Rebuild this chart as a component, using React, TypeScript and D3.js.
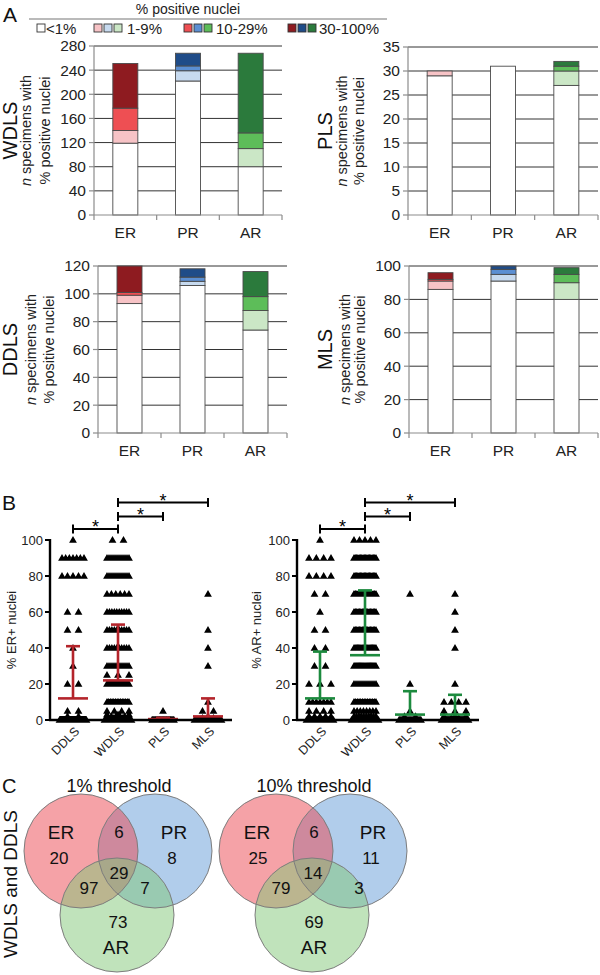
import React from 'react';
import * as d3 from 'd3';

const FONT = '"Liberation Sans", Arial, Helvetica, sans-serif';

// ---------- Panel A data ----------
const receptors = ['ER', 'PR', 'AR'];
const binLabels = ['<1%', '1-9%', '10-29%', '30-100%'];
const binKeys = ['b0', 'b1', 'b2', 'b3'];
const wdlsCounts = [[119, 21, 37, 74], [222, 17, 8, 21], [80, 30, 26, 132]];
const plsCounts = [[29, 1, 0, 0], [31, 0, 0, 0], [27, 3, 1, 1]];
const ddlsCounts = [[93, 6, 2, 19], [106, 3, 3, 6], [74, 14, 10, 18]];
const mlsCounts = [[86, 5, 1, 4], [91, 4, 3, 2], [80, 10, 5, 4]];
const erPalette = ['#ffffff', '#f7c3c6', '#ee4f53', '#8e1b20'];
const prPalette = ['#ffffff', '#c7daef', '#5b8fd3', '#1f4c88'];
const arPalette = ['#ffffff', '#cbe7c6', '#5dbd59', '#2b7a3c'];
const palettes = [erPalette, prPalette, arPalette];

// ---------- Panel B data ----------
const groupsB = ['DDLS', 'WDLS', 'PLS', 'MLS'];
const levelsB = [0, 1, 2, 3, 5, 10, 20, 25, 30, 40, 50, 60, 70, 80, 90, 100];
const erDDLS = [93, 2, 2, 0, 2, 0, 2, 0, 1, 1, 2, 2, 0, 5, 7, 1];
const erWDLS = [119, 8, 6, 3, 4, 14, 20, 3, 12, 10, 10, 10, 6, 12, 12, 2];
const erPLS = [29, 0, 0, 0, 1, 0, 0, 0, 0, 0, 0, 0, 0, 0, 0, 0];
const erMLS = [86, 2, 1, 0, 2, 1, 0, 0, 1, 1, 1, 0, 1, 0, 0, 0];
const arDDLS = [74, 5, 5, 0, 4, 7, 3, 0, 2, 2, 2, 1, 2, 4, 4, 1];
const arWDLS = [80, 12, 10, 0, 8, 14, 12, 0, 21, 20, 17, 17, 16, 18, 18, 5];
const arPLS = [27, 0, 2, 0, 1, 0, 1, 0, 0, 0, 0, 0, 1, 0, 0, 0];
const arMLS = [80, 4, 3, 0, 3, 4, 1, 0, 0, 1, 1, 1, 1, 0, 0, 0];
const erMedian = [12, 22, 0.5, 2];
const erUpper = [41, 53, 1.2, 12];
const arMedian = [12, 36, 3, 3];
const arUpper = [38, 72, 16, 14];
const sigPairs = [['DDLS', 'WDLS'], ['WDLS', 'PLS'], ['WDLS', 'MLS']];

// ---------- Panel C data ----------
const vennSets = ['ER', 'PR', 'AR'];
const vennTitles = ['1% threshold', '10% threshold'];
// regions: ER only, PR only, AR only, ER∩PR, ER∩AR, PR∩AR, ER∩PR∩AR
const venn1pct = [20, 8, 73, 6, 97, 7, 29];
const venn10pct = [25, 11, 69, 6, 79, 3, 14];
const vennSetColors = ['#eb4650', '#649bd7', '#82c878'];
const vennDrawOrder = [1, 0, 2];

// ---------- Panel A chart ----------
function StackChart({ counts, yMax, yStep, left, right, top, bottom, name, labelX }: any) {
  const y = d3.scaleLinear().domain([0, yMax]).range([bottom, top]);
  const x = d3.scaleBand().domain(receptors).range([left, right]);
  const ticks = d3.range(0, yMax + yStep / 2, yStep);
  const rows = receptors.map((r, i) => {
    const o: any = { key: r };
    binKeys.forEach((k, j) => (o[k] = counts[i][j]));
    return o;
  });
  const series = d3.stack().keys(binKeys)(rows);
  const bw = 25;
  const cy = (top + bottom) / 2;
  const axisColor = '#8c8c8c';
  return (
    <g>
      {ticks.filter((t) => t > 0).map((t) => (
        <line key={'g' + t} x1={left} x2={right} y1={y(t)} y2={y(t)} stroke="#333" strokeWidth={1} />
      ))}
      {series.map((s, j) =>
        s.map((d, i) =>
          d[1] - d[0] > 0 ? (
            <rect
              key={`${j}-${i}`}
              x={(x(receptors[i]) as number) + x.bandwidth() / 2 - bw / 2}
              y={y(d[1])}
              width={bw}
              height={y(d[0]) - y(d[1])}
              fill={palettes[i][j]}
              stroke="#4a4a4a"
              strokeWidth={0.9}
            />
          ) : null
        )
      )}
      <line x1={left} x2={left} y1={bottom} y2={top} stroke={axisColor} strokeWidth={1.2} />
      <line x1={left} x2={right} y1={bottom} y2={bottom} stroke={axisColor} strokeWidth={1.2} />
      {ticks.map((t) => (
        <g key={'t' + t}>
          <line x1={left - 5} x2={left} y1={y(t)} y2={y(t)} stroke={axisColor} strokeWidth={1.2} />
          <text x={left - 8} y={y(t)} dy="0.35em" textAnchor="end" fontSize={15.5} fill="#222">{t}</text>
        </g>
      ))}
      {[...receptors.map((r) => x(r) as number), right].map((bx, i) => (
        <line key={'xt' + i} x1={bx} x2={bx} y1={bottom} y2={bottom + 5} stroke={axisColor} strokeWidth={1.2} />
      ))}
      {receptors.map((r) => (
        <text key={'c' + r} x={(x(r) as number) + x.bandwidth() / 2} y={bottom + 23} textAnchor="middle" fontSize={15.5} fill="#222">{r}</text>
      ))}
      <text transform={`translate(${labelX[0]},${cy}) rotate(-90)`} textAnchor="middle" fontSize={20} fill="#111">{name}</text>
      <text transform={`translate(${labelX[1]},${cy}) rotate(-90)`} textAnchor="middle" fontSize={14.5} fill="#222">
        <tspan fontStyle="italic">n</tspan> specimens with
      </text>
      <text transform={`translate(${labelX[2]},${cy}) rotate(-90)`} textAnchor="middle" fontSize={14.5} fill="#222">% positive nuclei</text>
    </g>
  );
}

// ---------- Panel B chart ----------
function triPath(cx: number, cy: number) {
  const w = 7.8, h = 6.8;
  return `M${cx},${cy - h * 0.6}L${cx + w / 2},${cy + h * 0.4}L${cx - w / 2},${cy + h * 0.4}Z`;
}

function ScatterChart({ left, countsByGroup, median, upper, color, ylabel, ylabelX }: any) {
  const y = d3.scaleLinear().domain([0, 100]).range([720, 540]);
  const x = d3.scalePoint().domain(groupsB).range([left + 23, left + 158]);
  const end = left + 182;
  const ticks = d3.range(0, 101, 20);
  const pts: any[] = [];
  groupsB.forEach((g, gi) => {
    levelsB.forEach((v, li) => {
      const n = countsByGroup[gi][li];
      const span = n > 40 ? 27 : 22;
      const step = n > 1 ? Math.min(11, span / (n - 1)) : 0;
      for (let k = 0; k < n; k++) {
        pts.push({ cx: (x(g) as number) + (k - (n - 1) / 2) * step, cy: y(v) });
      }
    });
  });
  const bracketY = [529, 516.5, 502.5];
  return (
    <g>
      <path d={pts.map((p) => triPath(p.cx, p.cy)).join('')} fill="#000" />
      {groupsB.map((g, gi) => {
        const cx = x(g) as number;
        return (
          <g key={'e' + g} stroke={color} strokeWidth={2.6}>
            <line x1={cx} x2={cx} y1={y(median[gi])} y2={y(upper[gi])} />
            <line x1={cx - 15} x2={cx + 15} y1={y(median[gi])} y2={y(median[gi])} />
            <line x1={cx - 7} x2={cx + 7} y1={y(upper[gi])} y2={y(upper[gi])} />
          </g>
        );
      })}
      <line x1={left} x2={left} y1={721} y2={539} stroke="#000" strokeWidth={2.4} />
      <line x1={left - 1} x2={end} y1={720} y2={720} stroke="#000" strokeWidth={2.6} />
      {ticks.map((t) => (
        <g key={'t' + t}>
          <line x1={left - 5} x2={left} y1={y(t)} y2={y(t)} stroke="#000" strokeWidth={2} />
          <text x={left - 7} y={y(t)} dy="0.35em" textAnchor="end" fontSize={13} fill="#222">{t}</text>
        </g>
      ))}
      {groupsB.map((g) => (
        <text key={'l' + g} transform={`translate(${(x(g) as number) + 4},${729}) rotate(-45)`} textAnchor="end" dy="0.35em" fontSize={12.5} fill="#222">{g}</text>
      ))}
      <text transform={`translate(${ylabelX},630) rotate(-90)`} textAnchor="middle" fontSize={13} fill="#222">{ylabel}</text>
      {sigPairs.map((p, i) => {
        const x1 = x(p[0]) as number;
        const x2 = x(p[1]) as number;
        const by = bracketY[i];
        return (
          <g key={'s' + i}>
            <line x1={x1} x2={x2} y1={by} y2={by} stroke="#000" strokeWidth={2} />
            <line x1={x1} x2={x1} y1={by - 4.5} y2={by + 4.5} stroke="#000" strokeWidth={2} />
            <line x1={x2} x2={x2} y1={by - 4.5} y2={by + 4.5} stroke="#000" strokeWidth={2} />
            <text x={(x1 + x2) / 2} y={by + 4} textAnchor="middle" fontSize={18} fill="#000">*</text>
          </g>
        );
      })}
    </g>
  );
}

// ---------- Panel C venn ----------
function Venn({ ox, oy, values, title, offsets, setOffsets }: any) {
  const r = 57;
  const centers = [[0, 0], [74, 0], [36, 64]];
  return (
    <g>
      <text x={ox + 38} y={oy - 59} textAnchor="middle" fontSize={18} fill="#111">{title}</text>
      {vennDrawOrder.map((i) => (
        <circle key={'c' + i} cx={ox + centers[i][0]} cy={oy + centers[i][1]} r={r} fill={vennSetColors[i]} fillOpacity={0.5} />
      ))}
      {centers.map((c, i) => (
        <circle key={'s' + i} cx={ox + c[0]} cy={oy + c[1]} r={r} fill="none" stroke="#7d7d7d" strokeWidth={1} />
      ))}
      {vennSets.map((s, i) => (
        <text key={'n' + s} x={ox + setOffsets[i][0]} y={oy + setOffsets[i][1]} dy="0.35em" textAnchor="middle" fontSize={19} fill="#111">{s}</text>
      ))}
      {values.map((v: number, i: number) => (
        <text key={'v' + i} x={ox + offsets[i][0]} y={oy + offsets[i][1]} dy="0.35em" textAnchor="middle" fontSize={17} fill="#111">{v}</text>
      ))}
    </g>
  );
}

export default function App() {
  const legendItems = [
    { x: 37, cols: ['#ffffff'], text: 0, tx: 46 },
    { x: 94, cols: [erPalette[1], prPalette[1], arPalette[1]], text: 1, tx: 127 },
    { x: 184, cols: [erPalette[2], prPalette[2], arPalette[2]], text: 2, tx: 216 },
    { x: 288, cols: [erPalette[3], prPalette[3], arPalette[3]], text: 3, tx: 319 },
  ];
  const leftOffsets = [[-22, 7], [91, 7], [37, 71], [38, -19], [8, 37], [64, 37], [38, 22]];
  const rightOffsets = [[-18, 7], [95, 7], [38, 71], [38, -19], [5, 37], [83, 37], [37, 22]];
  const leftSetOff = [[-20, -19], [93, -19], [35, 96]];
  const rightSetOff = [[-19, -19], [97, -19], [38, 96]];
  return (
    <svg width={600} height={975} style={{ position: 'absolute', left: 0, top: 0, background: '#fff', fontFamily: FONT }}>
      <rect width={600} height={975} fill="#fff" />
      {/* Panel A */}
      <text x={3} y={22} fontSize={21} fill="#111">A</text>
      <text x={188} y={14} textAnchor="middle" fontSize={14} fill="#222">% positive nuclei</text>
      <line x1={29} x2={387} y1={19} y2={19} stroke="#777" strokeWidth={1.2} />
      {legendItems.map((it, i) => (
        <g key={'lg' + i}>
          {it.cols.map((c, j) => (
            <rect key={j} x={it.x + j * 10} y={24} width={8} height={8} fill={c} stroke="#333" strokeWidth={0.9} />
          ))}
          <text x={it.tx} y={33.5} fontSize={15} fill="#222">{binLabels[it.text]}</text>
        </g>
      ))}
      <StackChart counts={wdlsCounts} yMax={280} yStep={40} left={94} right={282} top={46} bottom={215} name="WDLS" labelX={[17, 31, 50]} />
      <StackChart counts={plsCounts} yMax={35} yStep={5} left={408} right={598} top={47} bottom={215} name="PLS" labelX={[332, 347, 364]} />
      <StackChart counts={ddlsCounts} yMax={120} yStep={20} left={98} right={287} top={266} bottom={433} name="DDLS" labelX={[17, 36, 54]} />
      <StackChart counts={mlsCounts} yMax={100} yStep={20} left={409} right={598} top={266} bottom={433} name="MLS" labelX={[332, 350, 365]} />
      {/* Panel B */}
      <text x={2} y={510} fontSize={21} fill="#111">B</text>
      <ScatterChart left={50} countsByGroup={[erDDLS, erWDLS, erPLS, erMLS]} median={erMedian} upper={erUpper} color="#b4242b" ylabel="% ER+ nuclei" ylabelX={16} />
      <ScatterChart left={297} countsByGroup={[arDDLS, arWDLS, arPLS, arMLS]} median={arMedian} upper={arUpper} color="#1c8a3e" ylabel="% AR+ nuclei" ylabelX={261} />
      {/* Panel C */}
      <text x={2} y={793} fontSize={20} fill="#111">C</text>
      <text transform="translate(17,884) rotate(-90)" textAnchor="middle" fontSize={19} fill="#111">WDLS and DDLS</text>
      <Venn ox={81} oy={851} values={venn1pct} title={vennTitles[0]} offsets={leftOffsets} setOffsets={leftSetOff} />
      <Venn ox={276} oy={851} values={venn10pct} title={vennTitles[1]} offsets={rightOffsets} setOffsets={rightSetOff} />
    </svg>
  );
}
